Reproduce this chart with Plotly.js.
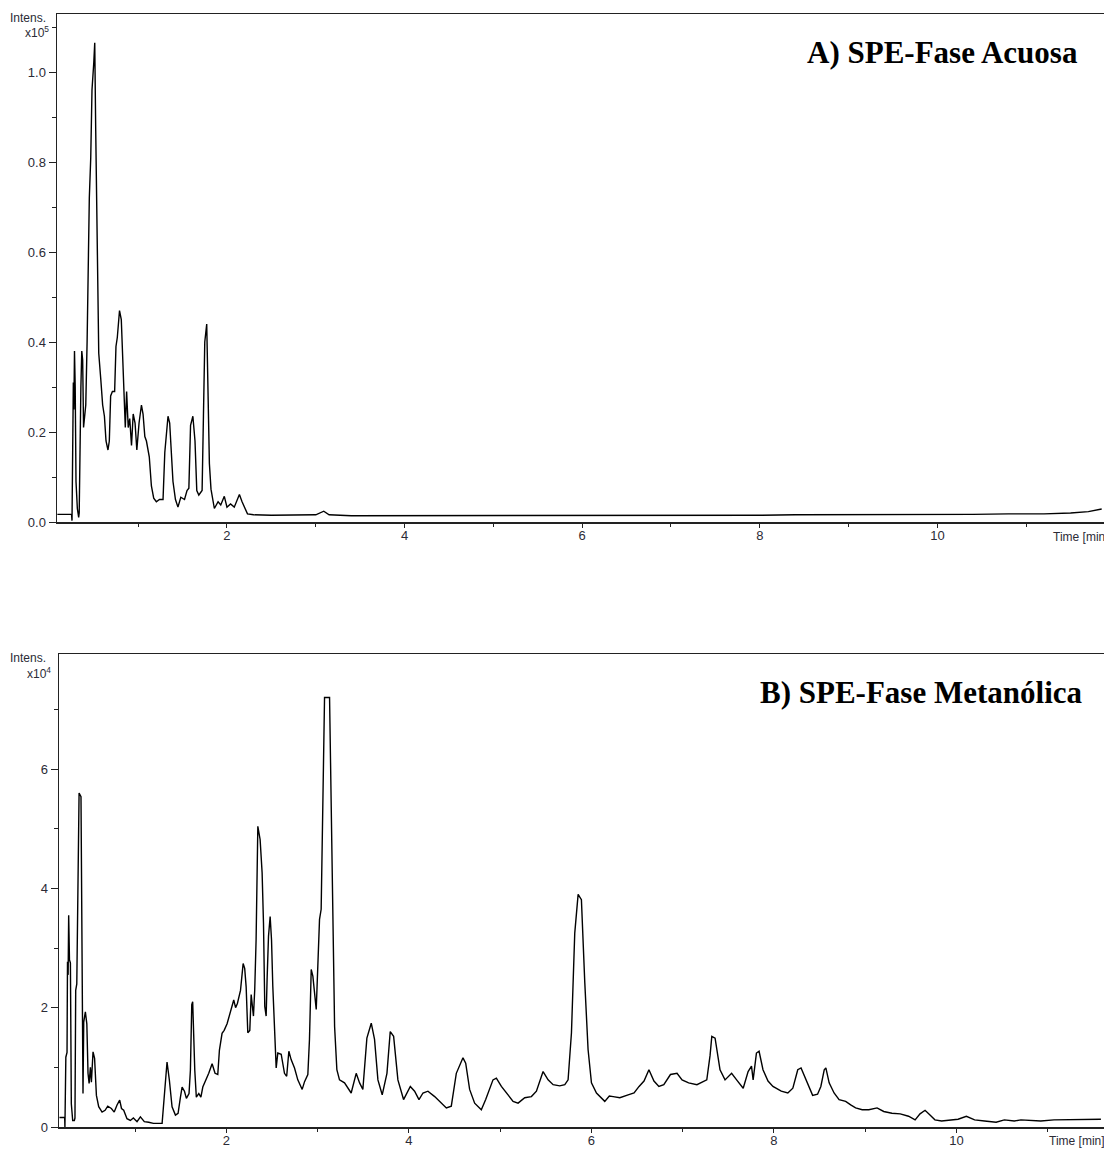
<!DOCTYPE html>
<html>
<head>
<meta charset="utf-8">
<script src="https://cdn.plot.ly/plotly-3.0.1.min.js"></script>
<style>html,body{margin:0;padding:0;background:#fff;}#chart{width:1104px;height:1149px;}</style>
</head>
<body>
<div id="chart"></div>
<script>
// Panel A: SPE-Fase Acuosa (intensity x10^5)
const timeA = [0.09,0.25,0.255,0.262,0.270,0.276,0.283,0.291,0.300,0.315,0.330,0.336,0.345,0.355,0.365,0.375,0.385,0.397,0.410,0.425,0.437,0.450,0.466,0.480,0.500,0.511,0.522,0.541,0.556,0.578,0.600,0.620,0.638,0.660,0.675,0.690,0.710,0.735,0.750,0.765,0.790,0.810,0.840,0.855,0.870,0.888,0.905,0.925,0.944,0.965,0.985,1.010,1.037,1.055,1.075,1.093,1.125,1.149,1.175,1.205,1.240,1.280,1.300,1.336,1.355,1.370,1.392,1.420,1.448,1.480,1.522,1.550,1.571,1.590,1.616,1.640,1.660,1.683,1.720,1.735,1.750,1.772,1.785,1.802,1.820,1.840,1.858,1.900,1.930,1.970,2.000,2.040,2.082,2.140,2.170,2.231,2.30,2.50,2.70,2.90,3.00,3.09,3.15,3.40,3.70,4.00,4.40,4.80,5.20,5.60,6.00,6.40,6.80,7.20,7.60,8.00,8.40,8.80,9.20,9.60,10.00,10.40,10.80,11.20,11.50,11.70,11.85];
const intensA = [0.017,0.017,0.003,0.29,0.31,0.25,0.38,0.30,0.09,0.03,0.01,0.02,0.20,0.30,0.38,0.36,0.21,0.23,0.26,0.40,0.56,0.72,0.81,0.96,1.02,1.065,0.87,0.57,0.375,0.32,0.26,0.235,0.18,0.16,0.18,0.28,0.29,0.29,0.39,0.41,0.47,0.45,0.30,0.21,0.29,0.21,0.23,0.17,0.24,0.22,0.16,0.22,0.26,0.24,0.19,0.18,0.145,0.08,0.053,0.045,0.05,0.05,0.155,0.235,0.22,0.16,0.09,0.05,0.033,0.055,0.05,0.07,0.075,0.215,0.235,0.18,0.07,0.06,0.07,0.235,0.40,0.44,0.26,0.13,0.073,0.05,0.03,0.045,0.038,0.057,0.033,0.04,0.033,0.061,0.045,0.018,0.016,0.015,0.015,0.015,0.016,0.024,0.016,0.014,0.014,0.014,0.014,0.014,0.014,0.014,0.014,0.014,0.015,0.015,0.015,0.015,0.016,0.016,0.016,0.016,0.017,0.017,0.018,0.018,0.020,0.023,0.029];

// Panel B: SPE-Fase Metanólica (intensity x10^4)
const timeB = [0.170,0.227,0.230,0.240,0.253,0.258,0.265,0.271,0.280,0.290,0.300,0.315,0.333,0.340,0.348,0.360,0.370,0.385,0.406,0.421,0.428,0.436,0.454,0.470,0.483,0.495,0.509,0.520,0.538,0.555,0.575,0.600,0.637,0.670,0.699,0.739,0.770,0.801,0.830,0.850,0.874,0.910,0.947,0.980,1.020,1.057,1.100,1.148,1.200,1.295,1.313,1.335,1.349,1.375,1.404,1.441,1.470,1.496,1.514,1.540,1.561,1.590,1.605,1.620,1.630,1.653,1.670,1.697,1.720,1.741,1.775,1.806,1.843,1.875,1.905,1.923,1.952,1.975,2.007,2.040,2.080,2.100,2.120,2.154,2.183,2.200,2.216,2.234,2.256,2.271,2.296,2.310,2.325,2.344,2.369,2.391,2.406,2.420,2.435,2.446,2.461,2.479,2.494,2.508,2.527,2.545,2.563,2.600,2.636,2.660,2.684,2.709,2.746,2.782,2.830,2.856,2.892,2.910,2.929,2.947,2.984,3.002,3.020,3.038,3.057,3.075,3.130,3.148,3.166,3.185,3.210,3.239,3.294,3.367,3.422,3.459,3.495,3.539,3.587,3.623,3.660,3.707,3.759,3.795,3.832,3.879,3.941,4.015,4.062,4.110,4.154,4.208,4.282,4.336,4.410,4.464,4.519,4.592,4.622,4.665,4.720,4.793,4.841,4.921,4.958,5.013,5.068,5.141,5.196,5.269,5.342,5.397,5.470,5.525,5.580,5.653,5.708,5.744,5.781,5.817,5.854,5.890,5.927,5.963,6.000,6.055,6.146,6.196,6.238,6.311,6.402,6.467,6.522,6.576,6.630,6.685,6.739,6.793,6.866,6.938,6.993,7.065,7.156,7.228,7.264,7.300,7.319,7.355,7.409,7.464,7.536,7.591,7.663,7.717,7.754,7.772,7.808,7.837,7.880,7.935,7.989,8.080,8.152,8.207,8.261,8.297,8.370,8.424,8.478,8.514,8.551,8.569,8.605,8.659,8.714,8.786,8.841,8.895,8.967,9.040,9.130,9.203,9.293,9.384,9.475,9.547,9.601,9.656,9.710,9.764,9.837,9.946,10.018,10.109,10.199,10.308,10.435,10.525,10.634,10.707,10.815,10.924,11.069,11.178,11.322,11.431,11.583];
const intensB = [0.16,0.16,0.0,1.17,1.25,2.77,2.55,3.55,2.8,2.75,0.39,0.11,0.11,0.15,2.29,2.4,3.89,5.6,5.54,2.52,0.56,1.76,1.93,1.73,0.9,0.73,1.0,0.75,1.26,1.15,0.53,0.34,0.25,0.28,0.35,0.31,0.25,0.37,0.45,0.31,0.28,0.14,0.11,0.15,0.09,0.17,0.09,0.08,0.06,0.06,0.39,0.9,1.09,0.78,0.34,0.2,0.23,0.5,0.67,0.6,0.48,0.56,0.95,2.05,2.1,0.95,0.5,0.56,0.5,0.67,0.78,0.9,1.06,0.9,0.88,1.29,1.57,1.62,1.73,1.9,2.13,2.0,2.07,2.29,2.74,2.66,2.35,1.58,1.62,2.22,1.86,2.3,3.14,5.04,4.82,4.26,3.42,2.02,1.86,2.5,3.2,3.53,3.14,2.36,1.49,0.99,1.24,1.22,0.9,0.85,1.27,1.13,0.99,0.79,0.63,0.76,0.88,1.47,2.64,2.53,1.97,2.64,3.48,3.65,5.72,7.2,7.2,5.38,3.12,1.69,0.96,0.79,0.74,0.57,0.9,0.74,0.63,1.49,1.74,1.47,0.79,0.54,0.9,1.6,1.52,0.79,0.46,0.68,0.6,0.46,0.57,0.6,0.51,0.43,0.32,0.35,0.9,1.16,1.07,0.63,0.4,0.29,0.46,0.79,0.82,0.68,0.57,0.43,0.4,0.49,0.51,0.6,0.93,0.79,0.71,0.69,0.71,0.79,1.58,3.25,3.9,3.81,2.42,1.3,0.74,0.57,0.43,0.52,0.51,0.49,0.54,0.57,0.68,0.77,0.96,0.77,0.68,0.71,0.88,0.9,0.79,0.74,0.71,0.77,0.79,1.2,1.52,1.49,0.96,0.79,0.9,0.79,0.65,0.93,1.02,0.79,1.24,1.27,0.96,0.77,0.68,0.6,0.57,0.65,0.96,0.99,0.71,0.53,0.55,0.68,0.96,0.99,0.74,0.57,0.46,0.43,0.37,0.32,0.29,0.29,0.32,0.26,0.23,0.22,0.18,0.12,0.22,0.28,0.2,0.12,0.1,0.12,0.13,0.18,0.12,0.1,0.08,0.12,0.1,0.12,0.11,0.1,0.12,0.12,0.13,0.12,0.13];

const titleA = "A) SPE-Fase Acuosa";
const titleB = "B) SPE-Fase Metanólica";
const unitA = "x10<sup>5</sup>";
const unitB = "x10<sup>4</sup>";
const yLabel = "Intens.";
const xLabel = "Time [min]";

// pixel helpers for the plot area (l=57, r=0, t=14, b=22)
const W = 1104, H = 1149, L = 57, T = 14, B = 22;
const pw = W - L, ph = H - T - B;
const px = v => (v - L) / pw;
const py = v => (H - B - v) / ph;

const tickFont = {family: "Liberation Sans, Arial, sans-serif", size: 13, color: "#2b2b36"};
const lineCol = "#222";

const traces = [
  {x: timeA, y: intensA, xaxis: "x", yaxis: "y", type: "scatter", mode: "lines",
   line: {color: "#000", width: 1.4}, hoverinfo: "skip"},
  {x: timeB, y: intensB, xaxis: "x2", yaxis: "y2", type: "scatter", mode: "lines",
   line: {color: "#000", width: 1.4}, hoverinfo: "skip"}
];

function xAx(range, anchor, domain) {
  return {range: range, domain: domain, anchor: anchor, showgrid: false, zeroline: false,
    showline: true, mirror: true, linecolor: lineCol, linewidth: 1.5,
    ticks: "outside", ticklen: 4, tickwidth: 1, tickcolor: lineCol,
    tick0: 0, dtick: 2, tickfont: tickFont, ticklabelstandoff: -3,
    minor: {dtick: 1, tick0: 0, ticks: "outside", ticklen: 3, tickcolor: lineCol, showgrid: false}};
}
function yAx(range, anchor, domain, dtick, fmt) {
  return {range: range, domain: domain, anchor: anchor, showgrid: false, zeroline: false,
    showline: true, mirror: false, linecolor: lineCol, linewidth: 1.5,
    ticks: "outside", ticklen: 7, tickwidth: 1, tickcolor: lineCol,
    tick0: 0, dtick: dtick, tickformat: fmt, tickfont: tickFont,
    minor: {dtick: dtick / 2, tick0: 0, ticks: "outside", ticklen: 4, tickcolor: lineCol, showgrid: false}};
}

const ann = (text, x, y, xanchor, font) => ({text: text, xref: "paper", yref: "paper",
  x: px(x), y: py(y), xanchor: xanchor, yanchor: "middle", showarrow: false, font: font});

const smallFont = {family: "Liberation Sans, Arial, sans-serif", size: 12, color: "#2b2b36"};
const titleFont = {family: "Liberation Serif, Times New Roman, serif", size: 31, color: "#000", weight: "bold"};

const layout = {
  width: W, height: H,
  margin: {l: L, r: 0, t: T, b: B, pad: 0},
  paper_bgcolor: "#fff", plot_bgcolor: "#fff",
  showlegend: false,
  xaxis: xAx([0.086, 11.876], "y", [0, 1]),
  yaxis: yAx([0, 1.129], "x", [py(522), 1], 0.2, ".1f"),
  xaxis2: xAx([0.165, 11.617], "y2", [px(59), 1]),
  yaxis2: yAx([0, 7.93], "x2", [0, py(654)], 2, "d"),
  annotations: [
    ann("<b>" + titleA + "</b>", 1080, 52, "right", titleFont),
    ann("<b>" + titleB + "</b>", 1085, 692, "right", titleFont),
    ann(yLabel, 48, 18, "right", smallFont),
    ann(unitA, 51, 32, "right", smallFont),
    ann(yLabel, 48, 658, "right", smallFont),
    ann(unitB, 53, 673, "right", smallFont),
    ann(xLabel, 1051, 537, "left", smallFont),
    ann(xLabel, 1047, 1141, "left", smallFont)
  ]
};

Plotly.newPlot("chart", traces, layout, {displayModeBar: false, staticPlot: true});
</script>
</body>
</html>
